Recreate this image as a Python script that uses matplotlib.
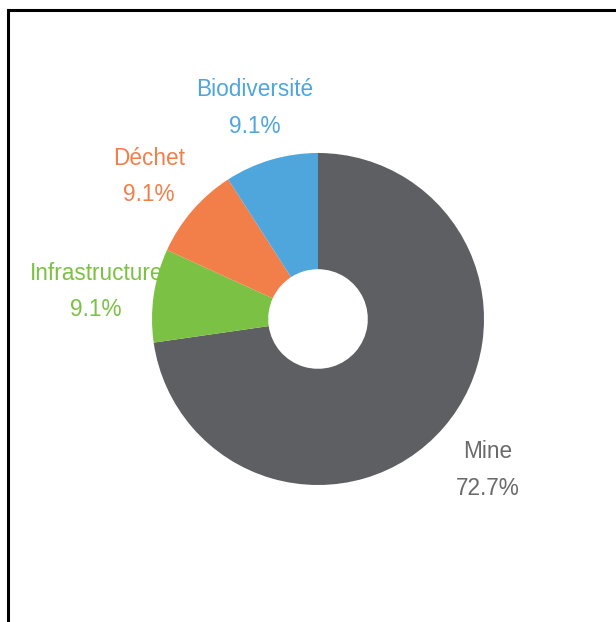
import matplotlib
matplotlib.use("Agg")
import matplotlib.pyplot as plt
from matplotlib.lines import Line2D
import numpy as np

categories = ["Mine", "Infrastructure", "Déchet", "Biodiversité"]
values = [8, 1, 1, 1]
pct_labels = ["72.7%", "9.1%", "9.1%", "9.1%"]
colors = ["#5e5f63", "#7bc143", "#f27e4a", "#4ea6dc"]
label_colors = ["#6a6a6a", "#7bc143", "#f27e4a", "#4ea6dc"]

plt.rcParams['font.family'] = ['Liberation Sans', 'DejaVu Sans']

fig = plt.figure(figsize=(6.16, 6.22), dpi=100)
# pie center (318, 319) px, radius 166 px
cx, cy, R = 318 / 616, 1 - 319 / 622, 166
ax_w = 2 * R / 616
ax_h = 2 * R / 622
ax = fig.add_axes([cx - ax_w / 2, cy - ax_h / 2, ax_w, ax_h])

wedges, _ = ax.pie(values, colors=colors, startangle=90, counterclock=False,
                   radius=1.0, wedgeprops=dict(width=0.70, edgecolor='none'))
ax.set_xlim(-1, 1)
ax.set_ylim(-1, 1)
ax.set_aspect('equal')
ax.axis('off')

for w, cat, pct, lc in zip(wedges, categories, pct_labels, label_colors):
    ang = np.deg2rad((w.theta1 + w.theta2) / 2)
    d = 1.35
    ax.text(d * np.cos(ang), d * np.sin(ang) - 0.025, f"{cat}\n{pct}", ha='center', va='center',
            fontsize=16.3, color=lc, linespacing=1.75, clip_on=False)

# partial frame (top and left edges)
fig.add_artist(Line2D([8 / 616, 1], [1 - 10 / 622, 1 - 10 / 622], color='black', lw=2.2,
                      transform=fig.transFigure))
fig.add_artist(Line2D([8 / 616, 8 / 616], [0, 1 - 10 / 622], color='black', lw=2.2,
                      transform=fig.transFigure))

fig.savefig("out.png", dpi=100, facecolor='white')
